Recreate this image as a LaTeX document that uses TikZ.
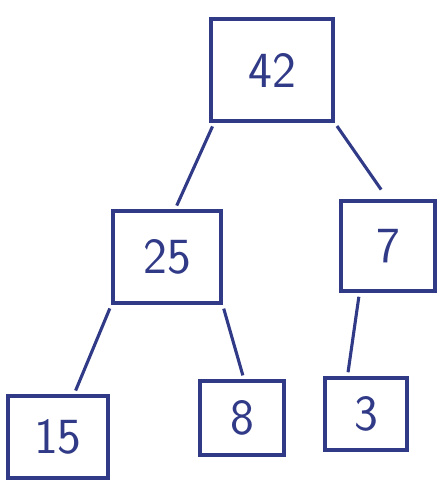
\documentclass[tikz,border=0pt]{standalone}
\usepackage{tikz}
\usetikzlibrary{positioning, arrows.meta}
\definecolor{ink}{RGB}{48,58,135}

\begin{document}
\begin{tikzpicture}[x=0.025cm, y=-0.025cm, line width=2.2pt, color=ink]
    % Styles
    \tikzstyle{block} = [draw, rectangle, inner sep=0pt, font=\fontsize{36}{40}\selectfont\sffamily]
    \tikzstyle{edge} = [shorten <=3pt, shorten >=3pt]

    \useasboundingbox (0,0) rectangle (440,481);

    % Nodes
    \node [block, minimum width=3.05cm, minimum height=2.55cm] (n42) at (272,70) {42};
    \node [block, minimum width=2.7cm, minimum height=2.3cm] (n25) at (167,257) {25};
    \node [block, minimum width=2.35cm, minimum height=2.25cm] (n7) at (388,246) {7};
    \node [block, minimum width=2.5cm, minimum height=2.05cm] (n15) at (58,437) {15};
    \node [block, minimum width=2.1cm, minimum height=1.85cm] (n8) at (242,418) {8};
    \node [block, minimum width=2.05cm, minimum height=1.8cm] (n3) at (366,414) {3};

    % Edges
    \draw [edge] ([xshift=0.12cm]n42.south west) -- ([xshift=0.2cm]n25.north);
    \draw [edge, shorten >=0.3cm] (n42.south east) -- (n7.north);
    \draw [edge] (n25.south west) -- ([xshift=0.4cm]n15.north);
    \draw [edge] (n25.south east) -- ([xshift=0.05cm]n8.north);
    \draw [edge] ([xshift=0.5cm]n7.south west) -- ([xshift=0.6cm]n3.north west);
\end{tikzpicture}
\end{document}
